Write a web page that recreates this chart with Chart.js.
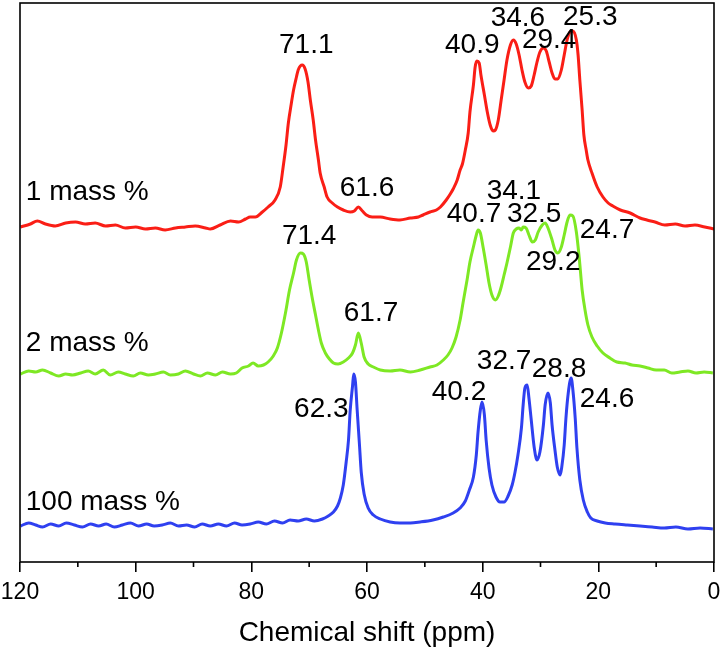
<!DOCTYPE html>
<html>
<head>
<meta charset="utf-8">
<script src="https://cdn.jsdelivr.net/npm/chart.js@4/dist/chart.umd.min.js"></script>
<style>
  html, body { margin: 0; padding: 0; background: #fff; }
  #wrap { width: 724px; height: 654px; position: relative; }
</style>
</head>
<body>
<div id="wrap"><canvas id="nmr"></canvas></div>
<script>
'use strict';

// 13C CP/MAS spectra, three loadings stacked with vertical offsets.
// Each trace: [chemical shift (ppm), intensity (arb. units incl. offset)]

const redTrace = [
  [119.9,335],[118.2,338],[117.0,341],[115.6,338],[113.9,336],[112.1,339],[110.4,340],[108.7,338],
  [107.0,339],[105.2,336],[103.5,337],[101.8,334],[100.0,335],[98.3,333],[96.6,334],[94.9,332],
  [93.1,334],[91.4,335],[89.7,336],[87.9,334],[87.1,333],[85.4,337],[83.6,341],[82.2,340],
  [81.0,343],[80.2,345],[79.3,345],[78.1,350],[77.1,355],[75.9,362],[75.0,375],[74.5,395],
  [74.0,417],[73.6,439],[73.1,458],[72.7,472],[72.2,485],[71.9,492],[71.2,497],[70.7,493],
  [70.2,480],[69.8,462],[69.3,442],[68.9,422],[68.4,402],[68.1,389],[67.4,375],[66.9,365],
  [66.0,359],[65.1,355],[64.1,352],[62.9,350],[62.2,351],[61.5,355],[60.8,351],[60.1,347],
  [59.1,345],[57.7,345],[56.0,343],[54.3,342],[52.5,344],[51.1,345],[50.3,347],[49.1,350],
  [48.0,352],[47.3,355],[46.3,362],[45.6,368],[45.1,373],[44.4,382],[43.9,392],[43.5,398],
  [43.0,412],[42.5,429],[42.2,450],[41.6,477],[41.3,495],[41.0,501],[40.6,499],[40.3,487],
  [39.7,467],[39.2,450],[38.7,437],[38.2,431],[37.8,432],[37.3,442],[36.8,462],[36.3,482],
  [35.8,502],[35.2,517],[34.7,522],[34.2,518],[33.7,507],[33.2,492],[32.7,480],[32.1,474],
  [31.6,476],[31.1,487],[30.6,500],[30.1,510],[29.5,514],[29.0,511],[28.5,500],[28.0,489],
  [27.5,483],[27.0,483],[26.4,492],[25.9,507],[25.4,522],[24.9,530],[24.4,531],[23.8,522],
  [23.5,507],[23.2,482],[22.8,452],[22.5,427],[22.1,412],[21.8,402],[21.1,389],[20.2,375],
  [19.2,365],[18.3,359],[17.5,356],[16.2,352],[14.5,349],[12.8,344],[11.6,342],[10.2,340],
  [8.5,337],[6.7,338],[5.0,336],[3.3,337],[1.6,335],[0.0,333]
];

const greenTrace = [
  [119.9,188],[118.5,191],[117.3,190],[116.1,192],[114.7,189],[113.3,186],[112.1,188],[110.9,187],
  [109.5,189],[108.2,191],[107.0,188],[105.6,192],[104.4,187],[103.0,190],[101.8,188],[100.4,186],
  [99.2,189],[97.8,187],[96.6,188],[95.2,190],[94.0,187],[92.6,188],[91.4,191],[90.0,188],
  [88.8,186],[87.6,189],[86.2,187],[85.0,190],[83.6,188],[82.6,189],[81.6,194],[80.5,196],
  [79.7,199],[78.8,196],[77.9,197],[77.1,200],[76.2,206],[75.5,214],[74.8,229],[74.1,249],
  [73.4,272],[72.7,289],[72.2,302],[71.5,309],[71.0,308],[70.5,300],[70.0,282],[69.5,265],
  [68.9,247],[68.4,232],[67.9,219],[67.2,209],[66.5,203],[65.8,199],[65.0,198],[64.1,200],
  [63.2,204],[62.5,209],[62.0,217],[61.5,229],[61.0,219],[60.5,205],[59.8,198],[58.9,195],
  [57.7,192],[56.0,191],[54.3,192],[52.5,190],[50.8,192],[49.1,195],[47.9,197],[46.8,202],
  [46.0,207],[45.3,214],[44.6,225],[43.9,242],[43.4,259],[42.7,282],[42.2,300],[41.6,315],
  [41.1,327],[40.8,332],[40.4,329],[39.9,314],[39.4,297],[38.9,279],[38.4,267],[37.8,262],
  [37.3,266],[36.8,275],[36.3,287],[35.8,299],[35.2,315],[34.7,329],[34.2,333],[33.7,334],
  [33.3,332],[33.0,335],[32.5,334],[32.0,327],[31.4,320],[30.9,322],[30.4,330],[29.7,337],
  [29.2,339],[28.7,334],[28.0,322],[27.5,312],[27.0,309],[26.4,315],[25.9,327],[25.4,340],
  [24.9,347],[24.4,346],[23.8,330],[23.3,304],[22.8,272],[22.3,252],[21.8,237],[21.1,225],
  [20.2,216],[19.2,209],[18.0,204],[16.8,200],[15.4,199],[14.2,197],[12.8,196],[11.4,194],
  [10.0,192],[8.6,192],[7.3,189],[5.9,190],[4.5,191],[3.1,189],[1.7,190],[0.2,189]
];

const blueTrace = [
  [119.9,36],[118.5,39],[117.3,37],[116.1,35],[114.7,38],[113.3,36],[112.0,39],[110.6,37],
  [109.2,35],[107.8,38],[106.4,36],[105.1,38],[103.7,35],[102.3,37],[100.9,39],[99.5,36],
  [98.1,38],[96.8,36],[95.4,37],[94.0,39],[92.6,36],[91.2,37],[89.8,35],[88.5,38],
  [87.1,36],[85.7,38],[84.3,36],[82.9,39],[81.6,37],[80.2,38],[78.8,40],[77.4,38],
  [76.0,41],[74.6,39],[73.3,42],[71.9,41],[70.5,43],[69.1,41],[67.7,43],[66.7,46],
  [65.8,50],[65.1,56],[64.6,64],[64.1,77],[63.6,100],[63.2,122],[62.9,152],[62.5,176],
  [62.3,188],[62.0,180],[61.7,152],[61.3,117],[61.0,90],[60.5,68],[59.8,54],[58.9,47],
  [57.7,43],[56.0,40],[54.3,39],[52.5,39],[50.8,40],[48.6,42],[46.8,45],[45.1,49],
  [43.9,54],[43.0,61],[42.3,72],[41.6,85],[41.1,107],[40.8,130],[40.4,152],[40.1,160],
  [39.7,147],[39.4,122],[38.9,94],[38.4,77],[37.7,65],[37.0,60],[36.3,60],[35.6,66],
  [34.9,77],[34.4,90],[33.9,107],[33.3,134],[33.0,157],[32.7,174],[32.3,177],[32.0,164],
  [31.6,142],[31.1,115],[30.6,102],[30.1,110],[29.5,137],[29.2,157],[28.7,169],[28.3,159],
  [28.0,137],[27.5,112],[27.1,95],[26.6,87],[26.3,96],[25.9,117],[25.6,144],[25.2,169],
  [24.7,184],[24.4,172],[24.0,144],[23.7,114],[23.2,82],[22.6,62],[21.9,50],[21.3,44],
  [20.2,41],[18.8,39],[17.1,38],[15.0,37],[12.8,36],[10.7,35],[8.6,34],[6.6,35],
  [4.5,33],[2.4,34],[0.2,33]
];

const seriesNames  = ['1 mass %', '2 mass %', '100 mass %'];
const seriesColors = ['#fa1e16', '#7ee824', '#2f40f0'];

// peak assignments: [text, ppm, intensity] (label anchor)
const peakLabels = [
  ['71.1',70.5,517],['61.6',60.0,374],['40.9',41.8,517],['34.6',33.9,544],['29.4',28.5,522],['25.3',21.4,545],
  ['71.4',70.0,326],['61.7',59.3,249],['34.1',34.6,371],['40.7',41.5,348],['32.5',31.1,348],['29.2',27.8,300],['24.7',18.5,332],
  ['62.3',67.9,153],['40.2',44.1,170],['32.7',36.3,201],['28.8',26.8,193],['24.6',18.5,163]
];
// trace names: [ppm, intensity] of the left edge
const nameAnchors = [[119.0,370],[119.0,219],[119.0,60]];

const X_MINOR = [10, 30, 50, 70, 90, 110];
const FONT = '"Liberation Sans", Arial, sans-serif';

const toXY = arr => arr.map(p => ({x: p[0], y: p[1]}));

const framePlugin = {
  id: 'frame',
  afterDatasetsDraw(chart) {
    const {ctx, chartArea: a, scales: {x, y}} = chart;
    ctx.save();
    // peak + trace labels
    ctx.fillStyle = '#000';
    ctx.font = '28px ' + FONT;
    ctx.textAlign = 'center';
    ctx.textBaseline = 'middle';
    for (const [t, px, py] of peakLabels) ctx.fillText(t, x.getPixelForValue(px), y.getPixelForValue(py));
    ctx.textAlign = 'left';
    nameAnchors.forEach(([px, py], i) => ctx.fillText(seriesNames[i], x.getPixelForValue(px), y.getPixelForValue(py)));
    // frame
    ctx.strokeStyle = '#000';
    ctx.lineWidth = 1.6;
    ctx.strokeRect(a.left, a.top, a.right - a.left, a.bottom - a.top);
    // minor ticks
    ctx.beginPath();
    for (const v of X_MINOR) {
      const px = x.getPixelForValue(v);
      ctx.moveTo(px, a.bottom);
      ctx.lineTo(px, a.bottom + 5);
    }
    ctx.stroke();
    ctx.restore();
  }
};

new Chart(document.getElementById('nmr'), {
  type: 'line',
  data: {
    datasets: [redTrace, greenTrace, blueTrace].map((tr, i) => ({
      label: seriesNames[i],
      data: toXY(tr),
      borderColor: seriesColors[i],
      borderWidth: 3,
      pointRadius: 0,
      cubicInterpolationMode: 'monotone',
      fill: false,
    })),
  },
  options: {
    responsive: true,
    maintainAspectRatio: false,
    animation: false,
    layout: {padding: {left: 20, right: 10, top: 3, bottom: 0}},
    plugins: {legend: {display: false}, tooltip: {enabled: false}},
    scales: {
      x: {
        type: 'linear',
        reverse: true,
        min: 0, max: 120,
        afterFit: s => { s.height = 92; s.paddingLeft = 0; s.paddingRight = 0; },
        ticks: {stepSize: 20, color: '#000', padding: 7, maxRotation: 0,
                font: {family: FONT, size: 23}},
        grid: {drawOnChartArea: false, drawTicks: true, tickLength: 10,
               color: '#000', lineWidth: 1.6},
        border: {display: false},
        title: {display: true, text: 'Chemical shift (ppm)', color: '#000',
                font: {family: FONT, size: 28}, padding: {top: 0, bottom: 4}},
      },
      y: {display: false, min: 0, max: 559},
    },
  },
  plugins: [framePlugin],
});
</script>
</body>
</html>
